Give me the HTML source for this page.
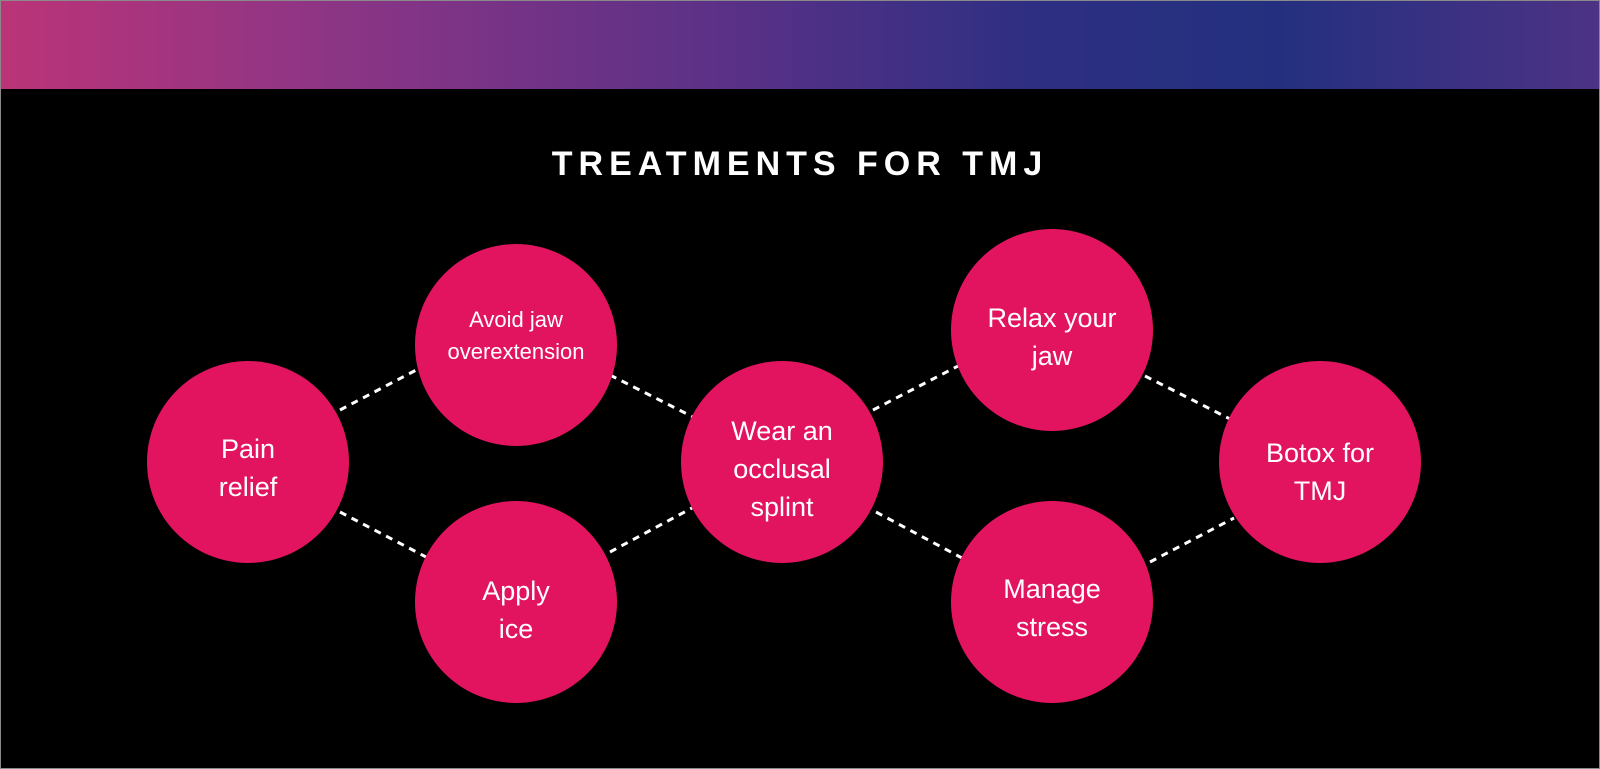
<!DOCTYPE html>
<html><head><style>
html,body{margin:0;padding:0;}
body{width:1600px;height:769px;background:#000;position:relative;overflow:hidden;font-family:"Liberation Sans",sans-serif;}
.frame{position:absolute;left:0;top:0;width:1598px;height:767px;border:1px solid #8a8a8a;}
.bar{position:absolute;left:1px;top:1px;width:1598px;height:88px;background:linear-gradient(90deg,#bb3478 0%,#8e3585 20%,#5b3187 45%,#2d2f82 65%,#24307f 80%,#4d3285 100%);}
h1{position:absolute;left:0;width:1600px;top:145px;margin:0;text-align:center;color:#fff;font-size:34px;font-weight:bold;letter-spacing:6px;}
</style></head><body>
<div class="frame"></div>
<div class="bar"></div>
<h1>TREATMENTS FOR TMJ</h1>
<svg width="1600" height="769" style="position:absolute;left:0;top:0">
<g stroke="#fff" stroke-width="3" stroke-dasharray="7,6">
<line x1="340" y1="410" x2="420" y2="368"/>
<line x1="340" y1="512" x2="428" y2="558"/>
<line x1="610" y1="375" x2="695" y2="418"/>
<line x1="610" y1="552" x2="692" y2="508"/>
<line x1="873" y1="410" x2="960" y2="365"/>
<line x1="876" y1="512" x2="962" y2="558"/>
<line x1="1145" y1="376" x2="1232" y2="420"/>
<line x1="1150" y1="562" x2="1234" y2="518"/>
</g>
<g fill="#e2135f">
<circle cx="248" cy="462" r="101"/>
<circle cx="516" cy="345" r="101"/>
<circle cx="516" cy="602" r="101"/>
<circle cx="782" cy="462" r="101"/>
<circle cx="1052" cy="330" r="101"/>
<circle cx="1052" cy="602" r="101"/>
<circle cx="1320" cy="462" r="101"/>
</g>
<g fill="#fff" font-family="Liberation Sans, sans-serif" text-anchor="middle">
<text x="248" y="458" font-size="27">Pain</text><text x="248" y="496" font-size="27">relief</text>
<text x="516" y="327" font-size="22">Avoid jaw</text><text x="516" y="359" font-size="22">overextension</text>
<text x="516" y="600" font-size="27">Apply</text><text x="516" y="638" font-size="27">ice</text>
<text x="782" y="440" font-size="27">Wear an</text><text x="782" y="478" font-size="27">occlusal</text><text x="782" y="516" font-size="27">splint</text>
<text x="1052" y="327" font-size="27">Relax your</text><text x="1052" y="365" font-size="27">jaw</text>
<text x="1052" y="598" font-size="27">Manage</text><text x="1052" y="636" font-size="27">stress</text>
<text x="1320" y="462" font-size="27">Botox for</text><text x="1320" y="500" font-size="27">TMJ</text>
</g>
</svg>
</body></html>
